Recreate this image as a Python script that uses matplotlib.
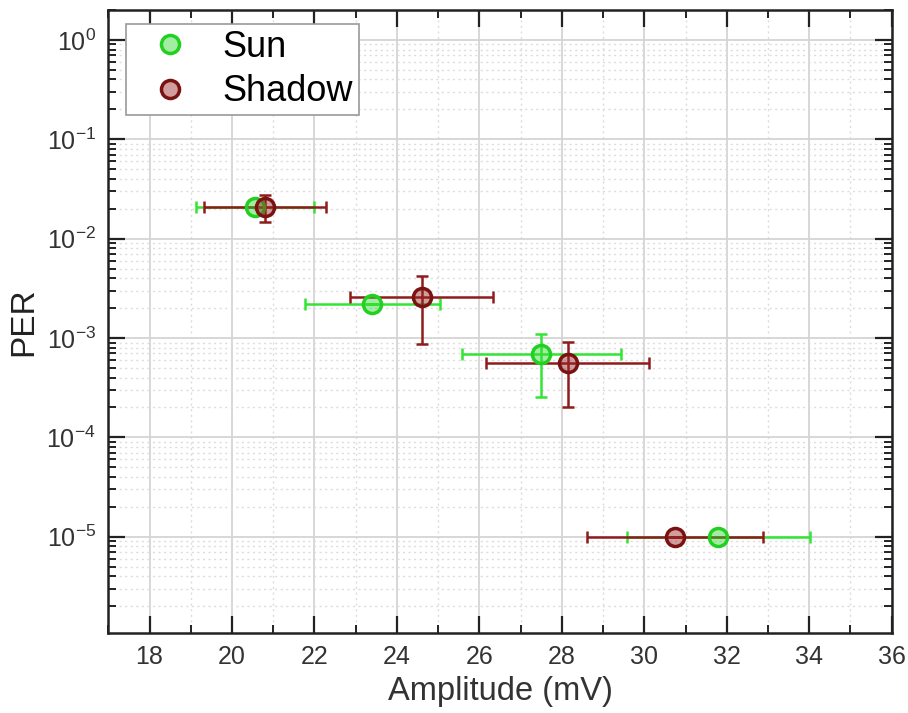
import matplotlib
matplotlib.use("Agg")
import matplotlib.pyplot as plt
from matplotlib.ticker import MultipleLocator, FixedLocator, LogLocator, FuncFormatter, NullFormatter
import numpy as np

plt.rcParams['font.family'] = ['Liberation Sans', 'DejaVu Sans']
plt.rcParams['mathtext.fontset'] = 'custom'
plt.rcParams['mathtext.rm'] = 'Liberation Sans'
plt.rcParams['mathtext.default'] = 'regular'

# Data
sun_x = [20.56, 23.40, 27.50, 31.80]
sun_xerr = [1.44, 1.64, 1.93, 2.22]
sun_y = [0.021, 0.00221, 0.00069, 1e-5]
sun_ylo = [0.0, 0.0, 0.000436, 0.0]
sun_yhi = [0.0, 0.0, 0.00041, 0.0]

shadow_x = [20.80, 24.60, 28.14, 30.74]
shadow_xerr = [1.47, 1.73, 1.97, 2.14]
shadow_y = [0.021, 0.00257, 0.000558, 1e-5]
shadow_ylo = [0.0064, 0.00170, 0.000358, 0.0]
shadow_yhi = [0.0062, 0.00168, 0.000349, 0.0]

labels = ["Sun", "Shadow"]
xticks = [18, 20, 22, 24, 26, 28, 30, 32, 34, 36]
yticks = [1e-5, 1e-4, 1e-3, 1e-2, 1e-1, 1e0]

green_line = '#33e533'
green_edge = '#22d022'
green_face = (0.2, 0.85, 0.2, 0.45)
red_line = '#8e1c1c'
red_edge = '#7a1212'
red_face = (0.6, 0.15, 0.15, 0.45)

fig = plt.figure(figsize=(9.08, 7.13), dpi=100)
ax = fig.add_axes([0.1193, 0.1126, 0.982 - 0.1193, 0.986 - 0.1126])

ax.set_yscale('log')
ax.set_xlim(17, 36)
ax.set_ylim(1.08e-6, 2.0)

# grid
ax.grid(True, which='major', color='#d4d4d4', linewidth=1.3, linestyle='-', zorder=0)
ax.grid(True, which='minor', color='#dcdcdc', linewidth=1.0, linestyle=(0, (1.5, 2.5)), zorder=0)
ax.set_axisbelow(True)

# error bars
ax.errorbar(sun_x, sun_y, xerr=sun_xerr, yerr=[sun_ylo, sun_yhi], fmt='none',
            ecolor=green_line, elinewidth=1.8, capsize=4.5, capthick=1.8, zorder=3)
ax.errorbar(shadow_x, shadow_y, xerr=shadow_xerr, yerr=[shadow_ylo, shadow_yhi], fmt='none',
            ecolor=red_line, elinewidth=1.8, capsize=4.5, capthick=1.8, zorder=3)

# markers
ax.plot(sun_x, sun_y, 'o', ms=13, mfc=green_face, mec=green_edge, mew=2.5, ls='none',
        zorder=4, label=labels[0])
ax.plot(shadow_x, shadow_y, 'o', ms=13, mfc=red_face, mec=red_edge, mew=2.5, ls='none',
        zorder=5, label=labels[1])

# ticks
ax.xaxis.set_major_locator(FixedLocator(xticks))
ax.xaxis.set_minor_locator(MultipleLocator(1))
ax.yaxis.set_major_locator(FixedLocator(yticks))
ax.yaxis.set_minor_locator(LogLocator(base=10, subs=np.arange(2, 10), numticks=20))
ax.yaxis.set_minor_formatter(NullFormatter())
ax.yaxis.set_major_formatter(FuncFormatter(lambda v, p: r'$10^{%d}$' % int(round(np.log10(v)))))
ax.xaxis.set_major_formatter(FuncFormatter(lambda v, p: '%d' % v))

ax.tick_params(which='both', direction='in', top=True, right=True, colors='#222222',
               labelsize=18, labelcolor='#333333')
ax.tick_params(which='major', length=12, width=1.6, pad=9)
ax.tick_params(which='minor', length=6, width=1.4)
for s in ax.spines.values():
    s.set_linewidth(1.8)
    s.set_color('#222222')

ax.set_xlabel('Amplitude (mV)', fontsize=23.5, color='#333333', labelpad=5)
ax.set_ylabel('PER', fontsize=24, color='#222222', labelpad=5)

leg = ax.legend(loc='upper left', bbox_to_anchor=(0.0226, 0.9775), fontsize=26,
                frameon=True, fancybox=False, edgecolor='#999999', framealpha=1,
                handletextpad=0.4, borderpad=0.17, labelspacing=0.25, handlelength=2.1,
                borderaxespad=0)
leg.get_frame().set_linewidth(1.2)

fig.savefig('out.png', dpi=100)
